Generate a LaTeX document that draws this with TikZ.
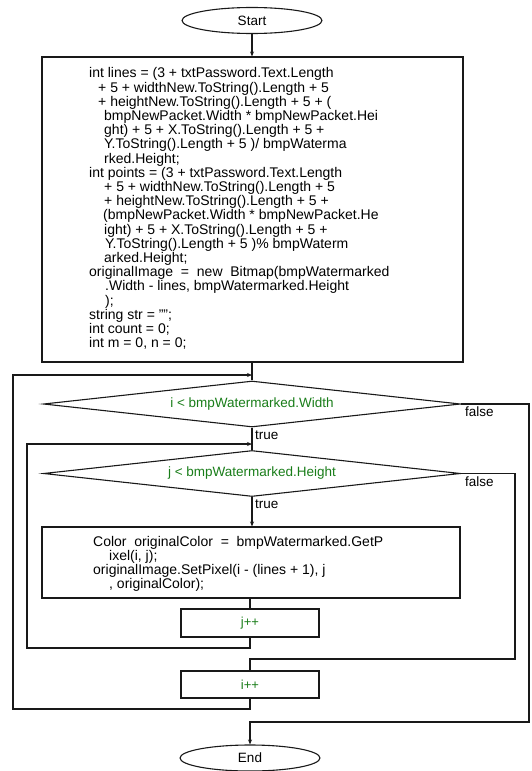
\documentclass[tikz,border=0pt]{standalone}
\usepackage{fontspec}
\setmainfont{Liberation Sans}
\usetikzlibrary{shapes.geometric,arrows.meta}
\definecolor{condgreen}{RGB}{25,125,25}
\definecolor{linec}{RGB}{25,25,25}
\begin{document}
\begin{tikzpicture}[x=1pt,y=-1pt,
  ln/.style={draw=linec,line width=1.1pt},
  arr/.style={ln,-{Stealth[length=5pt,width=4pt]}},
  term/.style={ellipse,draw=linec,line width=1.1pt,minimum width=140pt,minimum height=26pt,inner sep=0pt,font=\fontsize{13.5}{14}\selectfont},
  procbox/.style={rectangle,draw=linec,line width=1.1pt,inner sep=0pt},
  cond/.style={diamond,draw=linec,line width=1.1pt,inner sep=0pt,aspect=9.07,minimum width=417pt,minimum height=46pt,text=condgreen,font=\fontsize{13.5}{14}\selectfont},
  code/.style={align=left,inner sep=0pt,anchor=north west,font=\fontsize{14}{14.2}\selectfont},
  lbl/.style={anchor=west,inner sep=0pt,font=\fontsize{13.5}{14}\selectfont}]
\useasboundingbox (0,0) rectangle (531,771);

\node[term] (start) at (252,20.5) {Start};
\node[procbox,minimum width=421pt,minimum height=305pt] (init) at (252.5,209.5) {};
\node[code] (inittxt) at (89,67.5) {int lines = (3 + txtPassword.Text.Length\\
\hspace*{9pt}+ 5 + widthNew.ToString().Length + 5\\
\hspace*{9pt}+ heightNew.ToString().Length + 5 + (\\
\hspace*{15pt}bmpNewPacket.Width * bmpNewPacket.Hei\\
\hspace*{15pt}ght) + 5 + X.ToString().Length + 5 +\\
\hspace*{15pt}Y.ToString().Length + 5 )/ bmpWaterma\\
\hspace*{15pt}rked.Height;\\
int points = (3 + txtPassword.Text.Length\\
\hspace*{15pt}+ 5 + widthNew.ToString().Length + 5\\
\hspace*{15pt}+ heightNew.ToString().Length + 5 +\\
\hspace*{14pt}(bmpNewPacket.Width * bmpNewPacket.He\\
\hspace*{15pt}ight) + 5 + X.ToString().Length + 5 +\\
\hspace*{16pt}Y.ToString().Length + 5 )\% bmpWaterm\\
\hspace*{15pt}arked.Height;\\
originalImage \ = \ new \ Bitmap(bmpWatermarked\\
\hspace*{16pt}.Width - lines, bmpWatermarked.Height\\
\hspace*{16pt});\\
string str = "";\\
int count = 0;\\
int m = 0, n = 0;};

\coordinate (j1) at (252,375);
\node[cond] (c1) at (252,404) {i < bmpWatermarked.Width};
\coordinate (j2) at (252,444);
\node[cond] (c2) at (252,473.5) {j < bmpWatermarked.Height};
\node[procbox,minimum width=418pt,minimum height=71pt] (body) at (251,562.5) {};
\node[code] (bodytxt) at (93,536) {Color \ originalColor \ = \ bmpWatermarked.GetP\\
\hspace*{16pt}ixel(i, j);\\
originalImage.SetPixel(i - (lines + 1), j\\
\hspace*{16pt}, originalColor);};
\node[procbox,minimum width=138pt,minimum height=28pt,text=condgreen,font=\fontsize{13}{14}\selectfont] (jinc) at (250,623) {j++};
\node[procbox,minimum width=138pt,minimum height=27pt,text=condgreen,font=\fontsize{13}{14}\selectfont] (iinc) at (250,684.5) {i++};
\node[term] (end) at (250,758) {End};

\coordinate (l2a) at (252,648);
\coordinate (l2b) at (27,648);
\coordinate (l2c) at (27,444);
\coordinate (l1a) at (252,709);
\coordinate (l1b) at (13,709);
\coordinate (l1c) at (13,375);
\coordinate (f2a) at (515,473.5);
\coordinate (f2b) at (515,659);
\coordinate (f2c) at (252,659);
\coordinate (f1a) at (529,404);
\coordinate (f1b) at (529,722);
\coordinate (f1c) at (252,722);

\draw[arr] (start.south) -- (start.south |- init.north);
\draw[ln] (init.south -| j1) -- (j1) -- (c1.north);
\draw[ln] (c1.south) -- (j2) -- (c2.north);
\draw[arr] (c2.south) -- (c2.south |- body.north);
\draw[ln] (body.south -| jinc.north) -- (jinc.north);
\draw[arr] (jinc.south) -- (jinc.south |- l2a) -- (l2b) -- (l2c) -- (j2);
\draw[arr] (iinc.south) -- (iinc.south |- l1a) -- (l1b) -- (l1c) -- (j1);
\draw[ln] (c2.east) -- (f2a) -- (f2b) -- (f2c -| iinc.north) -- (iinc.north);
\draw[arr] (c1.east) -- (f1a) -- (f1b) -- (f1c -| end.north) -- (end.north);

\node[lbl] (t1) at (255,435) {true};
\node[lbl] (t2) at (255,504) {true};
\node[lbl] (fa1) at (465,412) {false};
\node[lbl] (fa2) at (465,482) {false};
\end{tikzpicture}
\end{document}
